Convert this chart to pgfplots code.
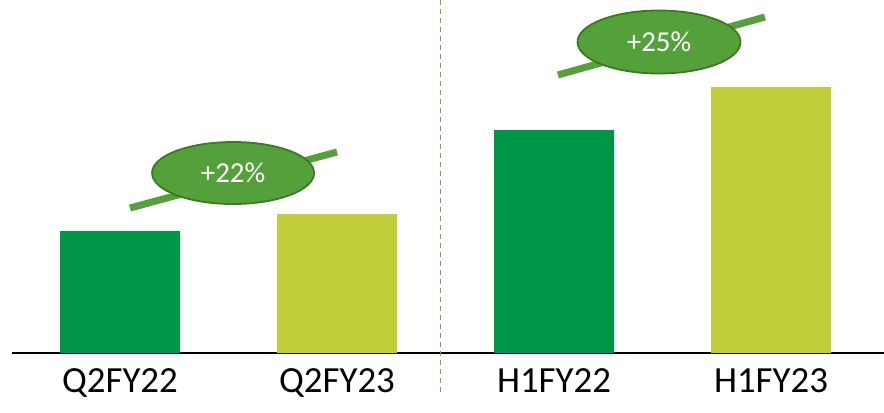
\documentclass[border=0pt]{standalone}
\usepackage{fontspec}
\setmainfont{Carlito}
\usepackage{pgfplots}
\pgfplotsset{compat=1.18}
\usetikzlibrary{shapes.geometric}

\definecolor{darkbar}{HTML}{009648}
\definecolor{lightbar}{HTML}{C1CF3A}
\definecolor{ovalfill}{HTML}{54A03A}
\definecolor{ovaledge}{HTML}{3C7A22}
\definecolor{divider}{HTML}{70AD47}

\begin{document}
\begin{tikzpicture}
\begin{axis}[
    x=217bp, y=1bp,
    xmin=-0.4977, xmax=3.5207,
    ymin=0, ymax=353,
    axis x line=bottom,
    axis y line=none,
    axis line style={black, line width=1.6bp, -},
    xtick={0,1,2,3},
    xticklabels={Q2FY22,Q2FY23,H1FY22,H1FY23},
    xticklabel style={font=\fontsize{37}{40}\selectfont, inner sep=0pt, yshift=-15bp},
    major tick length=0pt,
    ybar, bar width=0.553, bar shift=0pt,
    clip=false,
]
% dark green bars (previous year)
\addplot[fill=darkbar, draw=none] coordinates {(0,122) (2,223)};
% light green bars (current year)
\addplot[fill=lightbar, draw=none] coordinates {(1,139) (3,266)};

% divider between quarter and half-year
\draw[divider, line width=1bp, dash pattern=on 5bp off 4bp]
    (axis cs:1.479,353) -- (axis cs:1.479,-39);

% growth arrows and ovals
\draw[ovalfill, line width=7bp] (axis cs:0.046,145) -- (axis cs:1.0,201);
\node[ellipse, fill=ovalfill, draw=ovaledge, line width=1.8bp,
      minimum width=162bp, minimum height=62bp, inner sep=0pt,
      text=white, font=\fontsize{29}{30}\selectfont]
    at (axis cs:0.521,180) {+22\%};
\draw[ovalfill, line width=7bp] (axis cs:2.018,278) -- (axis cs:2.972,336);
\node[ellipse, fill=ovalfill, draw=ovaledge, line width=1.8bp,
      minimum width=163bp, minimum height=63bp, inner sep=0pt,
      text=white, font=\fontsize{29}{30}\selectfont]
    at (axis cs:2.484,311) {+25\%};

\coordinate (bl) at (axis cs:-0.553,-59);
\coordinate (tr) at (axis cs:3.5207,353);
\end{axis}
\pgfresetboundingbox
\path (bl) rectangle (tr);
\end{tikzpicture}
\end{document}
